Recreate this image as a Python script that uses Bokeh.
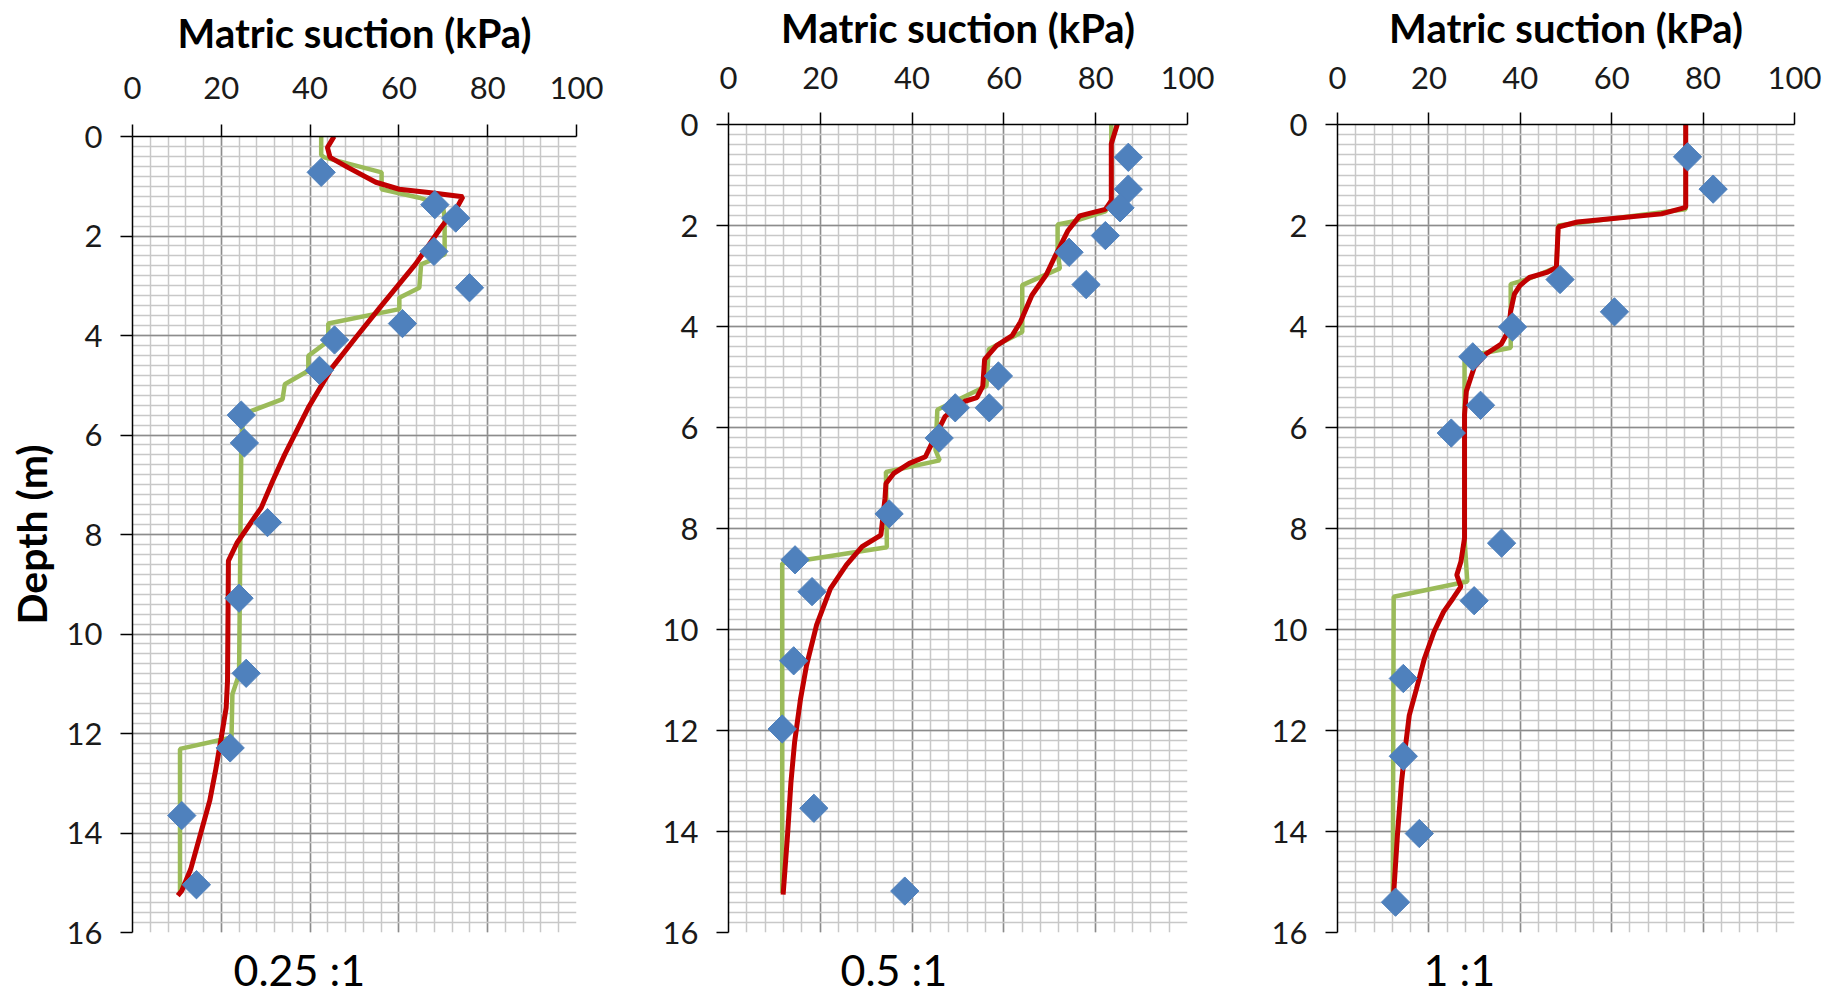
import numpy as np
from bokeh.plotting import figure
from bokeh.layouts import row, column
from bokeh.models import Range1d, SingleIntervalTicker, Title
from bokeh.embed import file_html
from bokeh.resources import INLINE

# ---------------- data ----------------
x_axis_title = "Matric suction (kPa)"
y_axis_title = "Depth (m)"
panel_labels = ["0.25 :1", "0.5 :1", "1 :1"]

# Panel 1 (0.25:1)
p1_green_kpa = [42.5, 42.5, 43.2, 56.1, 56.1, 64.6, 69.9, 70.3, 70.3, 65.0, 64.6, 60.1, 60.1, 44.1, 44.1,
                39.6, 39.6, 34.3, 33.8, 24.9, 24.5, 24.0, 22.5, 22.3, 10.7, 10.7]
p1_green_depth = [0.0, 0.37, 0.42, 0.72, 1.06, 1.23, 1.39, 1.63, 2.37, 2.57, 3.04, 3.24, 3.47, 3.76, 4.11,
                  4.41, 4.71, 4.98, 5.28, 5.58, 6.3, 10.81, 11.21, 12.08, 12.31, 15.20]
p1_red_kpa = [45.4, 43.9, 44.5, 48.5, 54.8, 60.1, 67.2, 74.4, 73.5, 69.5, 63.7, 55.7, 50.3, 45.0, 39.6,
              34.3, 31.6, 29.0, 23.6, 21.6, 21.4, 21.1, 20.0, 18.7, 17.4, 15.1, 13.1, 11.1, 10.2]
p1_red_depth = [0.0, 0.22, 0.42, 0.62, 0.92, 1.06, 1.13, 1.21, 1.36, 1.83, 2.57, 3.44, 4.04, 4.64, 5.45,
                6.39, 6.92, 7.46, 8.16, 8.53, 10.94, 11.48, 12.08, 12.75, 13.35, 14.09, 14.73, 15.16, 15.26]
p1_obs_kpa = [42.5, 68.1, 72.8, 67.9, 75.9, 60.8, 45.5, 42.1, 24.5, 25.2, 30.4, 24.0, 25.6, 22.0, 11.1, 14.4]
p1_obs_depth = [0.72, 1.37, 1.64, 2.31, 3.04, 3.76, 4.09, 4.70, 5.60, 6.16, 7.76, 9.28, 10.79, 12.29, 13.65, 15.04]

# Panel 2 (0.5:1)
p2_green_kpa = [83.4, 83.4, 82.1, 75.6, 71.7, 71.7, 72.2, 64.0, 64.0, 56.7, 56.2, 45.5, 45.1, 46.0, 34.3,
                34.5, 17.0, 11.7, 11.7]
p2_green_depth = [0.0, 1.5, 1.72, 1.91, 1.98, 2.51, 2.85, 3.18, 4.11, 4.45, 5.18, 5.65, 6.45, 6.65, 6.88,
                  8.37, 8.62, 8.69, 15.22]
p2_red_kpa = [84.7, 83.4, 83.4, 82.1, 76.5, 73.9, 71.3, 69.2, 66.1, 63.6, 61.8, 58.4, 55.8, 55.4, 54.1,
              51.5, 47.2, 45.0, 42.9, 39.4, 36.0, 34.3, 34.1, 33.2, 29.1, 25.7, 22.2, 19.2, 17.0, 15.7,
              14.4, 13.6, 12.9, 11.9]
p2_red_depth = [0.0, 0.38, 1.51, 1.68, 1.81, 2.11, 2.58, 2.98, 3.38, 3.91, 4.18, 4.38, 4.65, 5.18, 5.41,
                5.48, 5.78, 6.18, 6.58, 6.71, 6.91, 7.11, 7.40, 8.13, 8.36, 8.72, 9.19, 9.91, 10.71, 11.37,
                12.23, 13.03, 14.02, 15.25]
p2_obs_kpa = [87.1, 87.1, 85.3, 82.1, 74.2, 77.9, 58.8, 49.4, 56.8, 45.9, 35.0, 14.5, 18.2, 14.2, 11.7, 18.6, 38.4]
p2_obs_depth = [0.65, 1.28, 1.65, 2.20, 2.53, 3.17, 4.98, 5.61, 5.61, 6.21, 7.71, 8.62, 9.25, 10.62, 11.97, 13.54, 15.18]

# Panel 3 (1:1)
p3_green_kpa = [76.2, 76.2, 48.3, 47.9, 42.0, 37.9, 37.9, 32.4, 27.8, 27.8, 28.4, 12.3, 12.1]
p3_green_depth = [0.0, 1.68, 2.0, 2.83, 3.05, 3.16, 4.42, 4.52, 4.60, 8.2, 9.05, 9.35, 15.21]
p3_red_kpa = [76.2, 76.2, 70.9, 59.2, 52.5, 48.3, 47.9, 45.8, 42.0, 39.9, 38.7, 37.9, 37.4, 35.8, 32.4,
              29.9, 28.2, 27.8, 27.8, 27.0, 26.1, 27.0, 25.3, 23.2, 21.1, 19.0, 17.3, 15.7, 14.8, 14.0,
              13.1, 12.3]
p3_red_depth = [0.0, 1.64, 1.77, 1.87, 1.93, 2.03, 2.83, 2.93, 3.03, 3.19, 3.36, 3.69, 4.09, 4.35, 4.55,
                4.81, 5.28, 5.74, 8.19, 8.66, 8.92, 9.15, 9.38, 9.65, 10.05, 10.58, 11.17, 11.70, 12.37,
                13.03, 14.09, 15.21]
p3_obs_kpa = [76.6, 82.2, 48.7, 60.6, 38.3, 29.6, 31.3, 24.9, 35.9, 29.9, 14.4, 14.4, 17.9, 12.7]
p3_obs_depth = [0.64, 1.28, 3.07, 3.71, 4.01, 4.60, 5.56, 6.11, 8.29, 9.43, 10.97, 12.51, 14.04, 15.40]

FONT = "Lato"
GREEN = "#9BBB59"
RED = "#C00000"
BLUE = "#4F81BD"


def make_panel(gk, gd, rk, rd, ok, od, label, width, height, ml, mr, mt, mb,
               label_offset, label_standoff, tick_standoff, title_standoff, show_ylabel):
    p = figure(width=width, height=height, output_backend="svg", toolbar_location=None,
               x_range=Range1d(0, 100), y_range=Range1d(16, 0),
               x_axis_location="above", min_border_left=ml, min_border_right=mr,
               min_border_top=mt, min_border_bottom=mb)
    p.outline_line_color = None
    p.background_fill_color = "white"
    p.border_fill_color = "white"

    p.xaxis.ticker = SingleIntervalTicker(interval=20, num_minor_ticks=5)
    p.yaxis.ticker = SingleIntervalTicker(interval=2, num_minor_ticks=10)

    for ax in (p.xaxis, p.yaxis):
        ax.axis_line_color = "black"
        ax.axis_line_width = 1.5
        ax.major_tick_line_color = "black"
        ax.major_tick_line_width = 1.5
        ax.major_tick_out = 12
        ax.major_tick_in = 0
        ax.minor_tick_out = 0
        ax.minor_tick_in = 0
        ax.major_label_text_font = FONT
        ax.major_label_text_font_size = "31px"
        ax.major_label_text_color = "#1a1a1a"
        ax.axis_label_text_font = FONT
        ax.axis_label_text_font_style = "bold"
        ax.axis_label_text_color = "black"

    p.xaxis.major_label_standoff = tick_standoff
    p.yaxis.major_label_standoff = 18
    p.xaxis.axis_label = x_axis_title
    p.xaxis.axis_label_text_font_size = "40px"
    p.xaxis.axis_label_standoff = title_standoff
    if show_ylabel:
        p.yaxis.axis_label = y_axis_title
        p.yaxis.axis_label_text_font_size = "41px"
        p.yaxis.axis_label_standoff = 8

    for g in (p.xgrid, p.ygrid):
        g.grid_line_color = "#8c8c8c"
        g.grid_line_width = 1.5
        g.minor_grid_line_color = "#c8c8c8"
        g.minor_grid_line_width = 1.5

    p.line(gk, gd, line_color=GREEN, line_width=4.5)
    p.line(rk, rd, line_color=RED, line_width=5)
    p.scatter(ok, od, marker="square", angle=np.pi / 4, size=20,
              fill_color=BLUE, line_color=BLUE)

    t = Title(text=label, align="left", offset=label_offset, text_font=FONT,
              text_font_size="43px", text_font_style="normal", text_color="black",
              standoff=label_standoff)
    p.add_layout(t, "below")
    return p


H = 1003
p1 = make_panel(p1_green_kpa, p1_green_depth, p1_red_kpa, p1_red_depth, p1_obs_kpa, p1_obs_depth,
                panel_labels[0], 640, H, 132, 64, 136, 71, 101, 18, 26, 17, True)
p2 = make_panel(p2_green_kpa, p2_green_depth, p2_red_kpa, p2_red_depth, p2_obs_kpa, p2_obs_depth,
                panel_labels[1], 610, H, 88, 63, 124, 71, 112, 18, 24, 12, False)
p3 = make_panel(p3_green_kpa, p3_green_depth, p3_red_kpa, p3_red_depth, p3_obs_kpa, p3_obs_depth,
                panel_labels[2], 590, H, 87, 46, 124, 71, 86, 18, 24, 12, False)

layout = row(column(p1), column(p2), column(p3))
open("out.html", "w").write(file_html(layout, INLINE))
